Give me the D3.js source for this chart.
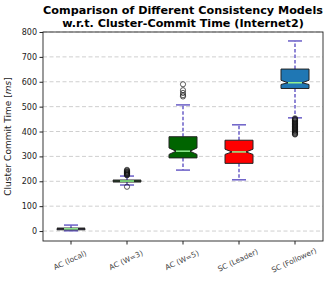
<!DOCTYPE html>
<html>
<head>
<meta charset="utf-8">
<script src="https://cdn.jsdelivr.net/npm/d3@7"></script>
<style>
  body { margin: 0; background: #fff; }
  text { font-family: "DejaVu Sans", sans-serif; }
</style>
</head>
<body>
<svg id="chart"></svg>
<script>
width = 332
height = 284

// data (ms)
var categories = ["AC (local)", "AC (W=3)", "AC (W=5)", "SC (Leader)", "SC (Follower)"]
var whiskerLow = [1, 185, 245, 206, 455]
var q1Values = [5, 197, 294, 272, 573]
var medians = [9, 201, 321, 318, 596]
var q3Values = [12, 205, 379, 365, 651]
var whiskerHigh = [24, 221, 507, 427, 764]
var notchLow = [8, 200, 308, 308, 589]
var notchHigh = [10, 202, 334, 329, 606]
var boxColors = ["#6a5acd", "#2ca02c", "#006400", "#ff0000", "#1f77b4"]
var outliers = [
    [],
    [178, 224, 226, 228, 230, 232, 234, 236, 238, 240, 243, 246],
    [541, 546, 555, 566, 590],
    [],
    [388, 390, 393, 396, 399, 402, 405, 408, 411, 414, 417, 420, 423, 426, 429, 432, 435, 438, 441, 444, 447, 450, 453]
]
var yTicks = [0, 100, 200, 300, 400, 500, 600, 700, 800]

var margin = {left: 43, right: 9, top: 32, bottom: 43}

let svg = d3.select("#chart")
    .attr("width", width)
    .attr("height", height)

var x = d3.scaleBand()
    .domain(categories)
    .range([margin.left, width - margin.right])
    .padding(0)

var y = d3.scaleLinear()
    .domain([-40, 800])
    .range([height - margin.bottom, margin.top])

var bw = x.bandwidth()
var boxW = bw * 0.5

// grid
svg.append("g")
    .selectAll("line")
    .data(yTicks)
    .enter().append("line")
    .attr("x1", margin.left)
    .attr("x2", width - margin.right)
    .attr("y1", d => y(d))
    .attr("y2", d => y(d))
    .attr("stroke", "#cfcfcf")
    .attr("stroke-width", 1)
    .attr("stroke-dasharray", "4,2.5")

var boxes = categories.map(function(c, i) {
    return {
        name: c, lo: whiskerLow[i], q1: q1Values[i], med: medians[i], q3: q3Values[i],
        hi: whiskerHigh[i], nlo: notchLow[i], nhi: notchHigh[i], color: boxColors[i], fliers: outliers[i]
    }
})

var g = svg.selectAll(".box")
    .data(boxes)
    .enter().append("g")
    .attr("class", "box")
    .attr("transform", d => `translate(${x(d.name) + bw / 2},0)`)

// whiskers
g.append("line")
    .attr("x1", 0).attr("x2", 0)
    .attr("y1", d => y(d.q3)).attr("y2", d => y(d.hi))
    .attr("stroke", "#6b5fc7").attr("stroke-width", 1.5)
    .attr("stroke-dasharray", "3.5,2")
g.append("line")
    .attr("x1", 0).attr("x2", 0)
    .attr("y1", d => y(d.q1)).attr("y2", d => y(d.lo))
    .attr("stroke", "#6b5fc7").attr("stroke-width", 1.5)
    .attr("stroke-dasharray", "3.5,2")

// caps
g.selectAll(".cap")
    .data(d => [d.lo, d.hi])
    .enter().append("line")
    .attr("x1", -boxW / 4).attr("x2", boxW / 4)
    .attr("y1", d => y(d)).attr("y2", d => y(d))
    .attr("stroke", "#6b5fc7").attr("stroke-width", 1.5)

// notched box
function notchPath(d) {
    var l = -boxW / 2, r = boxW / 2, ml = -boxW / 4, mr = boxW / 4
    var p = d3.path()
    p.moveTo(l, y(d.q1))
    p.lineTo(l, y(d.nlo))
    p.lineTo(ml, y(d.med))
    p.lineTo(l, y(d.nhi))
    p.lineTo(l, y(d.q3))
    p.lineTo(r, y(d.q3))
    p.lineTo(r, y(d.nhi))
    p.lineTo(mr, y(d.med))
    p.lineTo(r, y(d.nlo))
    p.lineTo(r, y(d.q1))
    p.closePath()
    return p.toString()
}

g.append("path")
    .attr("d", notchPath)
    .attr("fill", d => d.color)
    .attr("stroke", "#222")
    .attr("stroke-width", 1)

// medians
g.append("line")
    .attr("x1", -boxW / 4).attr("x2", boxW / 4)
    .attr("y1", d => y(d.med)).attr("y2", d => y(d.med))
    .attr("stroke", "#90ee90").attr("stroke-width", 1.5)

// fliers
g.selectAll(".flier")
    .data(d => d.fliers)
    .enter().append("circle")
    .attr("cx", 0)
    .attr("cy", d => y(d))
    .attr("r", 2.6)
    .attr("fill", "none")
    .attr("stroke", "#111")
    .attr("stroke-opacity", 0.75)
    .attr("stroke-width", 0.9)

// frame
svg.append("rect")
    .attr("x", margin.left).attr("y", margin.top)
    .attr("width", width - margin.left - margin.right)
    .attr("height", height - margin.top - margin.bottom)
    .attr("fill", "none").attr("stroke", "#222").attr("stroke-width", 0.9)

// y axis
var yAxis = svg.append("g")
    .attr("transform", `translate(${margin.left},0)`)
    .call(d3.axisLeft(y).tickValues(yTicks).tickSize(3.5).tickPadding(2.5))
yAxis.select(".domain").remove()
yAxis.selectAll("text").style("font-size", "8px").attr("fill", "#222")
yAxis.selectAll("line").attr("stroke", "#222")

// x axis
var xAxis = svg.append("g")
    .attr("transform", `translate(0,${height - margin.bottom})`)
    .call(d3.axisBottom(x).tickSize(3.5).tickPadding(2))
xAxis.select(".domain").remove()
xAxis.selectAll("line").attr("stroke", "#222")
xAxis.selectAll("text")
    .style("font-size", "7.4px")
    .attr("fill", "#444")
    .attr("text-anchor", "middle")
    .attr("dy", null)
    .attr("y", 0)
    .attr("transform", "translate(0,21.5) rotate(-25)")

// y label
svg.append("text")
    .attr("transform", `translate(11,${(margin.top + height - margin.bottom) / 2}) rotate(-90)`)
    .attr("text-anchor", "middle")
    .style("font-size", "9px")
    .attr("fill", "#222")
    .html('Cluster Commit Time [<tspan font-style="italic">ms</tspan>]')

// title
svg.append("text")
    .attr("x", (margin.left + width - margin.right) / 2)
    .attr("y", 14)
    .attr("text-anchor", "middle")
    .style("font-size", "11.2px")
    .style("font-weight", "bold")
    .text("Comparison of Different Consistency Models")
svg.append("text")
    .attr("x", (margin.left + width - margin.right) / 2)
    .attr("y", 27)
    .attr("text-anchor", "middle")
    .style("font-size", "11.2px")
    .style("font-weight", "bold")
    .text("w.r.t. Cluster-Commit Time (Internet2)")
</script>
</body>
</html>
